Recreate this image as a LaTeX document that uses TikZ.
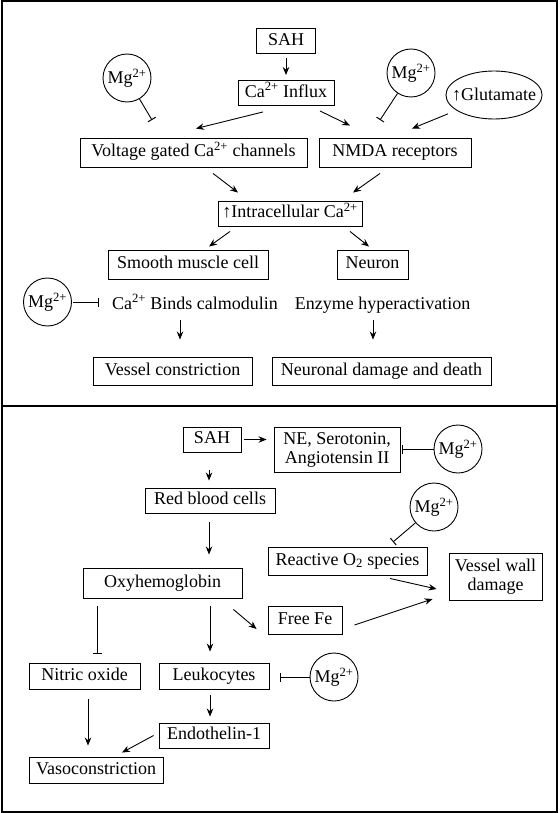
\documentclass[tikz,border=0pt]{standalone}
\usepackage{fontspec}
\setmainfont{Liberation Serif}
\usetikzlibrary{arrows.meta,shapes.geometric,positioning}
\newcommand{\mgion}{Mg\textsuperscript{2+}}
\newcommand{\caion}{Ca\textsuperscript{2+}}
\tikzset{
blk/.style={
  draw,
  line width=0.9pt,
  font=\fontsize{18pt}{20pt}\selectfont,
  text height=12.5pt,
  text depth=4pt,
  inner xsep=4pt,
  inner ysep=0pt,
  minimum height=26pt,
  align=center
  },
blktwo/.style={
  draw,
  line width=0.9pt,
  font=\fontsize{18pt}{19pt}\selectfont,
  inner sep=3pt,
  align=center
  },
lbl/.style={
  font=\fontsize{18pt}{20pt}\selectfont,
  text height=12.5pt,
  text depth=4pt,
  inner sep=0pt
  },
mgcirc/.style={
  circle,
  draw,
  line width=0.9pt,
  minimum size=48pt,
  inner sep=0pt,
  font=\fontsize{18pt}{20pt}\selectfont
  },
inh/.style={line width=0.9pt,-{Bar[width=9pt,line width=1pt]}},
arr/.style={line width=0.9pt,->}
}

\begin{document}
\begin{tikzpicture}[>={Stealth[length=8pt,width=6.5pt]},x=1pt,y=-1pt]
\useasboundingbox (0,0) rectangle (559,813);
\draw[line width=1.8pt] (2,1) rectangle (557,812);
\draw[line width=1.8pt] (2,406) -- (557,406);

% calcium panel
\node[blk,minimum width=59pt,minimum height=25pt] (sahtop) at (286,41) {SAH};
\node[blk,minimum width=96pt,minimum height=25pt] (influx) at (286,93) {\caion{} Influx};
\node[mgcirc] (mga) at (127,78) {\mgion};
\node[mgcirc] (mgb) at (411,73) {\mgion};
\node[ellipse,draw,line width=0.9pt,minimum width=96pt,minimum height=48pt,
      inner xsep=-8pt,inner ysep=0pt,font=\fontsize{18pt}{20pt}\selectfont] (glu) at (494,95) {↑Glutamate};
\node[blk,minimum width=227pt,minimum height=29pt] (volt) at (193.5,152.5) {Voltage gated \caion{} channels};
\node[blk,minimum width=152pt,minimum height=29pt] (nmda) at (395,152.5) {NMDA receptors};
\node[blk,minimum width=144pt,minimum height=25pt] (intra) at (290,213.5) {↑Intracellular \caion};
\node[blk,minimum width=160pt,minimum height=29pt] (smooth) at (188,264.5) {Smooth muscle cell};
\node[blk,minimum width=71pt,minimum height=29pt] (neuron) at (372.5,264.5) {Neuron};
\node[mgcirc] (mgc) at (47.5,302) {\mgion};
\node[lbl] (binds) at (195,305) {\caion{} Binds calmodulin};
\node[lbl] (enzyme) at (382.5,305) {Enzyme hyperactivation};
\node[blk,minimum width=159pt,minimum height=28pt] (vessel) at (172.5,371) {Vessel constriction};
\node[blk,minimum width=219pt,minimum height=28pt] (damage) at (381.5,371) {Neuronal damage and death};
\coordinate (mgaend) at (152,120);
\coordinate (mgbend) at (380,120);

\draw[arr,shorten <=4pt,shorten >=5pt] (sahtop) -- (influx);
\draw[arr] ([xshift=-23pt,yshift=-6pt]influx.south) -- ([xshift=2.5pt,yshift=9pt]volt.north);
\draw[arr] ([xshift=34pt,yshift=-5pt]influx.south) -- ([xshift=-45pt,yshift=12pt]nmda.north);
\draw[inh] (mga) -- (mgaend);
\draw[inh] (mgb) -- (mgbend);
\draw[arr,shorten <=9pt] (glu) -- ([xshift=17pt,yshift=9pt]nmda.north);
\draw[arr] ([xshift=19.5pt,yshift=-6pt]volt.south) -- ([xshift=-52pt,yshift=8pt]intra.north);
\draw[arr] ([xshift=-15pt,yshift=-6pt]nmda.south) -- ([xshift=63pt,yshift=8pt]intra.north);
\draw[arr] ([xshift=-60pt,yshift=-5pt]intra.south) -- ([xshift=21pt,yshift=3pt]smooth.north);
\draw[arr] ([xshift=60pt,yshift=-5pt]intra.south) -- ([xshift=-3.5pt,yshift=3pt]neuron.north);
\draw[inh,shorten <=1.5pt,shorten >=13pt] (mgc.east) -- (mgc.east -| binds.west);
\draw[arr] ([xshift=-15pt,yshift=-7pt]binds.south) -- ([xshift=7.5pt,yshift=17pt]vessel.north);
\draw[arr] ([xshift=-9.5pt,yshift=-7pt]enzyme.south) -- ([xshift=-8.5pt,yshift=17pt]damage.north);

% haemoglobin panel
\node[blk,minimum width=58pt,minimum height=25pt] (sahbot) at (212,439.5) {SAH};
\node[blktwo,minimum width=126pt,minimum height=45pt] (ne) at (337,449.5) {NE, Serotonin,\\Angiotensin II};
\node[mgcirc] (mgd) at (458,449) {\mgion};
\node[blk,minimum width=130pt,minimum height=25pt] (rbc) at (210,500.5) {Red blood cells};
\node[mgcirc] (mge) at (434,507) {\mgion};
\node[blk,minimum width=159pt,minimum height=30pt] (oxy) at (162.5,583) {Oxyhemoglobin};
\node[blk,minimum width=159pt,minimum height=28pt] (ros) at (347.5,561) {Reactive O\textsubscript{2} species};
\node[blktwo,minimum width=93pt,minimum height=47pt] (wall) at (495.5,576.5) {Vessel wall\\damage};
\node[blk,minimum width=74pt,minimum height=28pt] (fe) at (305,620) {Free Fe};
\node[blk,minimum width=111pt] (nitric) at (84.5,676) {Nitric oxide};
\node[blk,minimum width=110pt] (leuko) at (214,676) {Leukocytes};
\node[mgcirc] (mgf) at (334,677) {\mgion};
\node[blk,minimum width=110pt,minimum height=25pt] (endo) at (214,735.5) {Endothelin-1};
\node[blk,minimum width=134pt] (vaso) at (96,770) {Vasoconstriction};
\coordinate (mgeend) at (393,542);

\draw[arr,shorten <=3pt,shorten >=7pt] (sahbot.east) -- (sahbot.east -| ne.west);
\draw[inh,shorten >=2pt] (mgd.west) -- (mgd.west -| ne.east);
\draw[arr] ([xshift=-3pt,yshift=-18pt]sahbot.south) -- ([xshift=-1pt,yshift=7pt]rbc.north);
\draw[arr] ([xshift=-1pt,yshift=-9pt]rbc.south) -- ([xshift=46.5pt,yshift=13pt]oxy.north);
\draw[inh] (mge) -- (mgeend);
\draw[arr] ([xshift=42.5pt,yshift=-3pt]ros.south) -- ([xshift=-12pt,yshift=-12.5pt]wall.west);
\draw[arr] ([xshift=12pt,yshift=-5pt]fe.east) -- ([xshift=-16pt,yshift=-22.5pt]wall.west);
\draw[arr] ([xshift=-9pt,yshift=-11pt]oxy.south east) -- ([xshift=-11pt,yshift=-9pt]fe.west);
\draw[inh] ([xshift=-65.5pt,yshift=-8pt]oxy.south) -- ([xshift=12.5pt,yshift=9pt]nitric.north);
\draw[arr] ([xshift=47.5pt,yshift=-8pt]oxy.south) -- ([xshift=-4pt,yshift=11pt]leuko.north);
\draw[inh,shorten >=11pt] (mgf.west) -- (mgf.west -| leuko.east);
\draw[arr] ([xshift=-4pt,yshift=-6pt]leuko.south) -- ([xshift=-4pt,yshift=6pt]endo.north);
\draw[arr] ([xshift=-5pt]endo.west) -- ([xshift=26pt,yshift=4pt]vaso.north);
\draw[arr] ([xshift=3.5pt,yshift=-10pt]nitric.south) -- ([xshift=-8pt,yshift=11pt]vaso.north);
\end{tikzpicture}
\end{document}
